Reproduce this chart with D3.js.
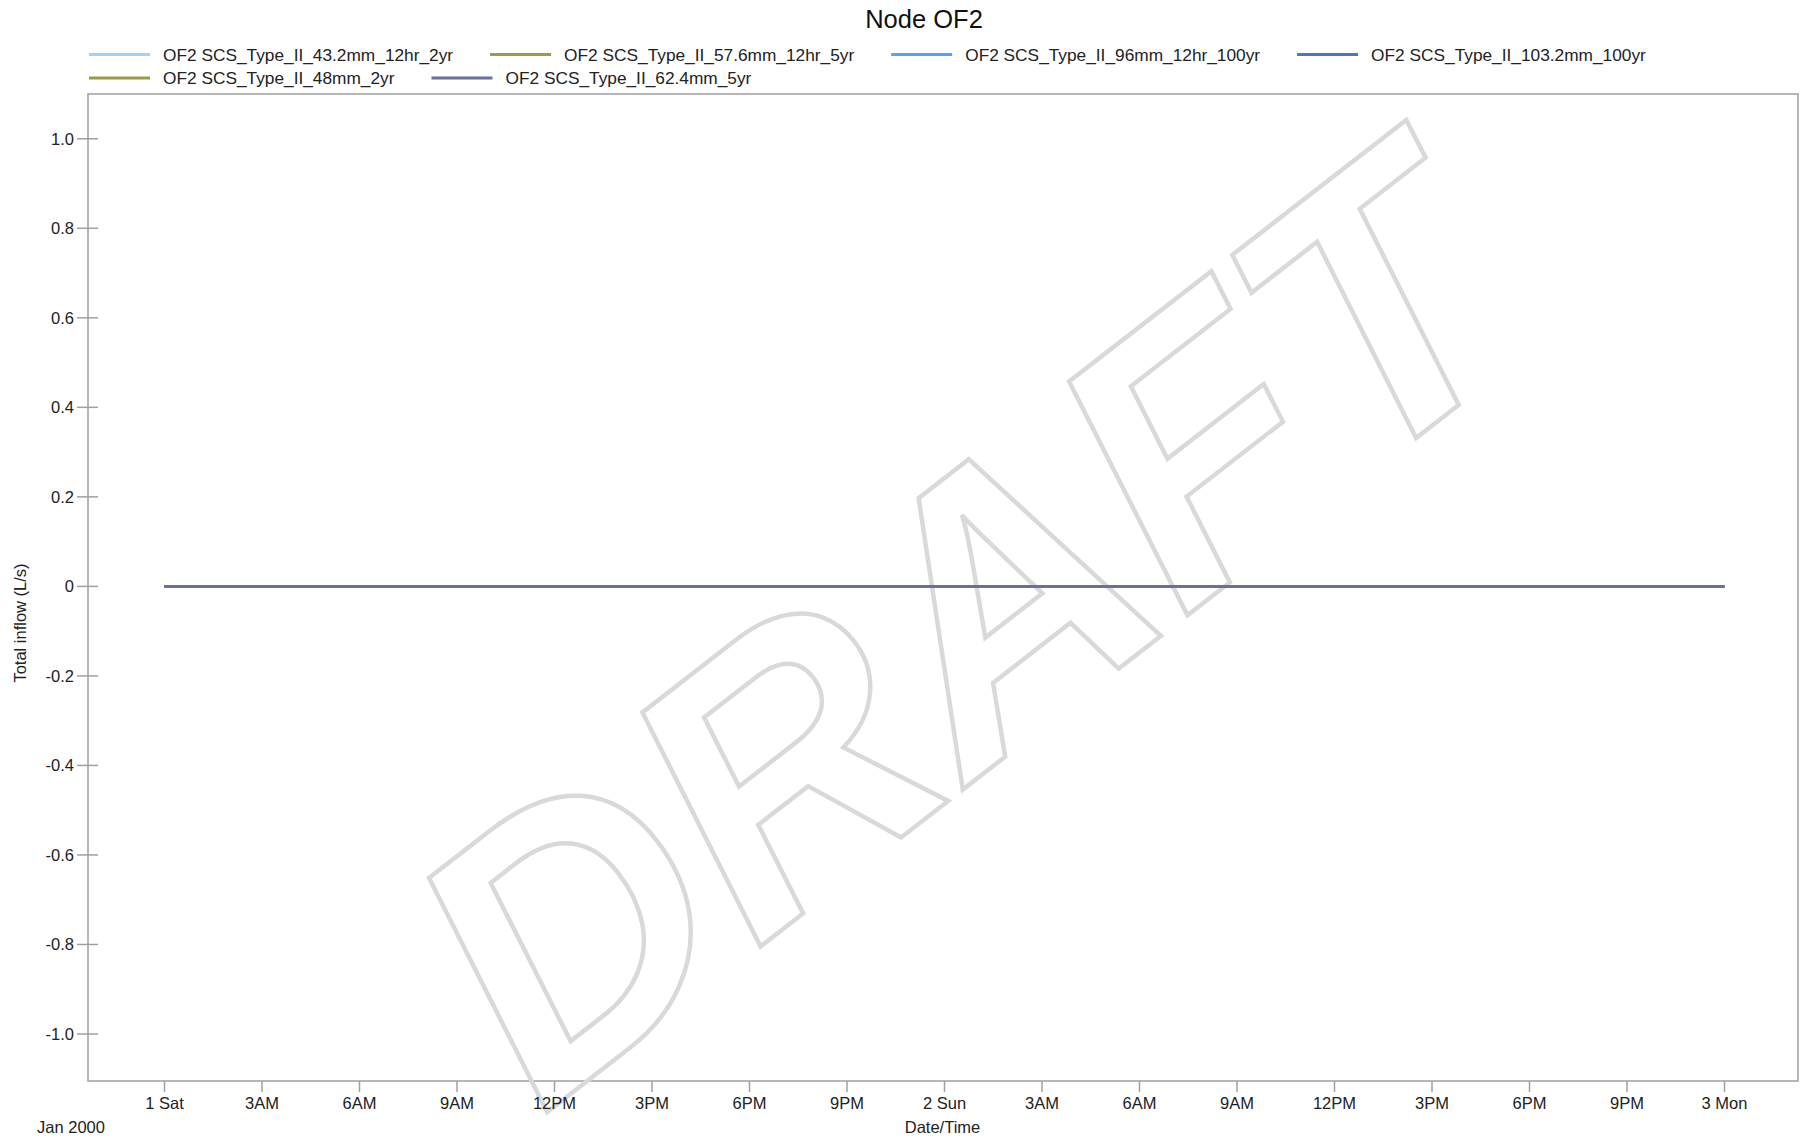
<!DOCTYPE html>
<html>
<head>
<meta charset="utf-8">
<script src="https://cdn.jsdelivr.net/npm/d3@7"></script>
<style>
  html, body { margin: 0; padding: 0; background: #fff; }
  svg { display: block; font-family: "Liberation Sans", Arial, sans-serif; }
</style>
</head>
<body>
<svg id="chart" width="1816" height="1141"></svg>
<script>
// ---------------- data ----------------
const title = "Node OF2";
const yLabel = "Total inflow (L/s)";
const xLabel = "Date/Time";
const xSubLabel = "Jan 2000";

const seriesNames = [
  "OF2 SCS_Type_II_43.2mm_12hr_2yr",
  "OF2 SCS_Type_II_57.6mm_12hr_5yr",
  "OF2 SCS_Type_II_96mm_12hr_100yr",
  "OF2 SCS_Type_II_103.2mm_100yr",
  "OF2 SCS_Type_II_48mm_2yr",
  "OF2 SCS_Type_II_62.4mm_5yr"
];
const seriesColors = ["#a6d0f5", "#9c9c48", "#4da3ff", "#4a72d0", "#9a9a42", "#6b6f9c"];

// time stamps (every 6 hours, Jan 1 2000 00:00 -> Jan 3 2000 00:00)
const timeStamps = [
  "2000-01-01T00:00", "2000-01-01T06:00", "2000-01-01T12:00", "2000-01-01T18:00",
  "2000-01-02T00:00", "2000-01-02T06:00", "2000-01-02T12:00", "2000-01-02T18:00",
  "2000-01-03T00:00"
];
const values_43_2mm_2yr   = [0, 0, 0, 0, 0, 0, 0, 0, 0];
const values_57_6mm_5yr   = [0, 0, 0, 0, 0, 0, 0, 0, 0];
const values_96mm_100yr   = [0, 0, 0, 0, 0, 0, 0, 0, 0];
const values_103_2mm_100yr= [0, 0, 0, 0, 0, 0, 0, 0, 0];
const values_48mm_2yr     = [0, 0, 0, 0, 0, 0, 0, 0, 0];
const values_62_4mm_5yr   = [0, 0, 0, 0, 0, 0, 0, 0, 0];
const seriesValues = [values_43_2mm_2yr, values_57_6mm_5yr, values_96mm_100yr,
                      values_103_2mm_100yr, values_48mm_2yr, values_62_4mm_5yr];

const yTicks = [1.0, 0.8, 0.6, 0.4, 0.2, 0, -0.2, -0.4, -0.6, -0.8, -1.0];
const yTickLabels = ["1.0", "0.8", "0.6", "0.4", "0.2", "0", "-0.2", "-0.4", "-0.6", "-0.8", "-1.0"];
const xTickLabels = ["1 Sat","3AM","6AM","9AM","12PM","3PM","6PM","9PM","2 Sun","3AM","6AM","9AM","12PM","3PM","6PM","9PM","3 Mon"];

// ---------------- layout ----------------
const svg = d3.select("#chart");
const plot = { left: 88, top: 94, right: 1798, bottom: 1081 };
const parse = d3.timeParse("%Y-%m-%dT%H:%M");
const times = timeStamps.map(parse);

const x = d3.scaleTime()
  .domain([parse("2000-01-01T00:00"), parse("2000-01-03T00:00")])
  .range([164.5, 1724.5]);
const y = d3.scaleLinear().domain([-1.105, 1.1]).range([plot.bottom, plot.top]);

const textColor = "#222";
const axisColor = "#a0a0a0";

// title
svg.append("text").attr("x", 924).attr("y", 28)
  .attr("text-anchor", "middle").attr("font-size", 25.5).attr("fill", "#111").text(title);

// legend
const legendRows = [[0, 1, 2, 3], [4, 5]];
const rowY = [54.5, 78];
legendRows.forEach((row, ri) => {
  let cx = 89;
  row.forEach(i => {
    const g = svg.append("g");
    g.append("line").attr("x1", cx).attr("x2", cx + 61)
      .attr("y1", rowY[ri]).attr("y2", rowY[ri])
      .attr("stroke", seriesColors[i]).attr("stroke-width", 3);
    const t = g.append("text").attr("x", cx + 74).attr("y", rowY[ri])
      .attr("dy", "0.35em").attr("font-size", 17.3).attr("fill", textColor)
      .text(seriesNames[i]);
    const w = t.node().getComputedTextLength();
    cx = cx + 74 + w + 37;
  });
});

// frame
svg.append("rect").attr("x", plot.left).attr("y", plot.top)
  .attr("width", plot.right - plot.left).attr("height", plot.bottom - plot.top)
  .attr("fill", "none").attr("stroke", axisColor).attr("stroke-width", 1.5);

// watermark
svg.append("text")
  .attr("transform", "translate(542,1116) rotate(-37.8)")
  .attr("text-anchor", "start")
  .attr("font-size", 374).attr("font-style", "italic").attr("font-weight", "bold")
  .attr("fill", "none").attr("stroke", "#d9d9d9").attr("stroke-width", 4.5)
  .text("DRAFT");

// y axis ticks
const yg = svg.append("g");
yTicks.forEach((v, i) => {
  yg.append("line").attr("x1", plot.left - 11).attr("x2", plot.left + 10)
    .attr("y1", y(v)).attr("y2", y(v)).attr("stroke", axisColor).attr("stroke-width", 1.5);
  yg.append("text").attr("x", plot.left - 14).attr("y", y(v)).attr("dy", "0.35em")
    .attr("text-anchor", "end").attr("font-size", 16.5).attr("fill", textColor)
    .text(yTickLabels[i]);
});

// x axis ticks
const xTickVals = d3.timeHour.every(3).range(parse("2000-01-01T00:00"), d3.timeMinute.offset(parse("2000-01-03T00:00"), 1));
const xg = svg.append("g");
xTickVals.forEach((d, i) => {
  xg.append("line").attr("x1", x(d)).attr("x2", x(d))
    .attr("y1", plot.bottom).attr("y2", plot.bottom + 11)
    .attr("stroke", axisColor).attr("stroke-width", 1.5);
  xg.append("text").attr("x", x(d)).attr("y", 1103).attr("dy", "0.35em")
    .attr("text-anchor", "middle").attr("font-size", 16.5).attr("fill", textColor)
    .text(xTickLabels[i]);
});

// axis labels
svg.append("text").attr("x", 942.5).attr("y", 1127).attr("dy", "0.35em")
  .attr("text-anchor", "middle").attr("font-size", 16.5).attr("fill", textColor).text(xLabel);
svg.append("text").attr("x", 71).attr("y", 1127).attr("dy", "0.35em")
  .attr("text-anchor", "middle").attr("font-size", 16.5).attr("fill", textColor).text(xSubLabel);
svg.append("text").attr("transform", "translate(20,623) rotate(-90)").attr("dy", "0.35em")
  .attr("text-anchor", "middle").attr("font-size", 16.5).attr("fill", textColor).text(yLabel);

// series lines
const line = d3.line().x((d, i) => x(times[i])).y(d => y(d));
seriesValues.forEach((vals, si) => {
  svg.append("path").datum(vals).attr("d", line)
    .attr("fill", "none").attr("stroke", seriesColors[si]).attr("stroke-width", 3);
});
</script>
</body>
</html>
